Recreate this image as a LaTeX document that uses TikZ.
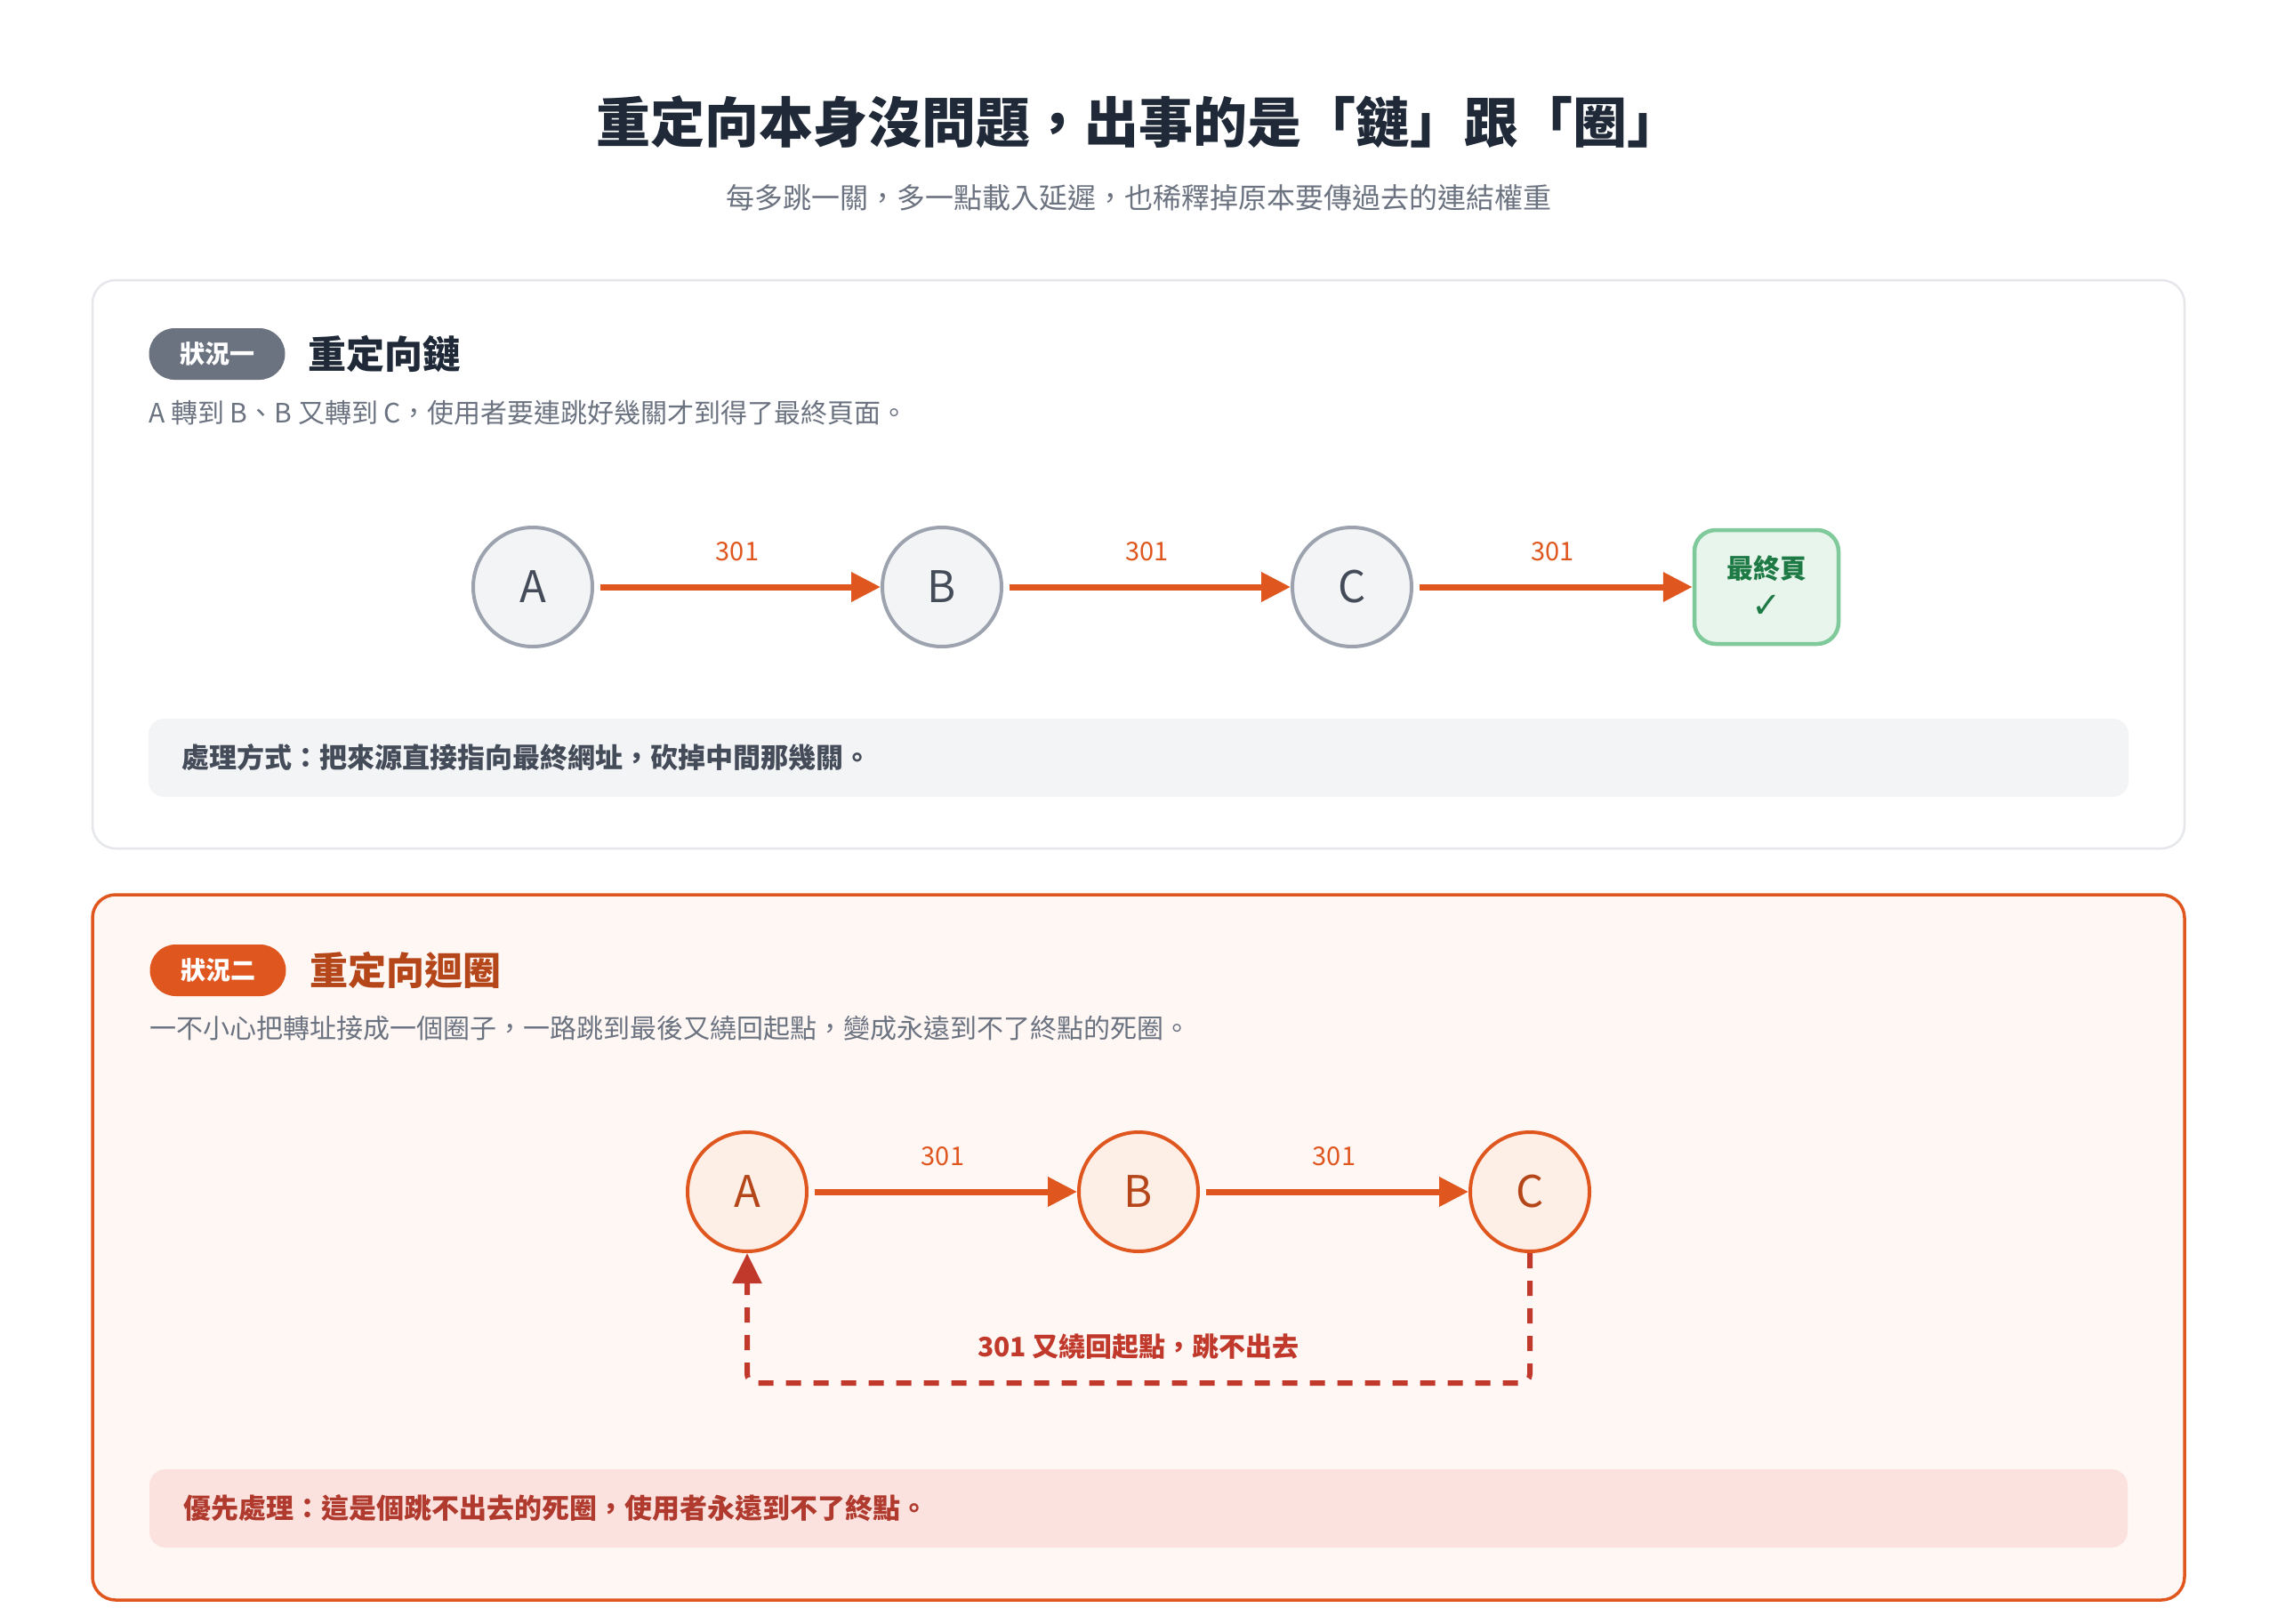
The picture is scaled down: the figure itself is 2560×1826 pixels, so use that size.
\documentclass[tikz,border=0pt]{standalone}
\usepackage{fontspec}
\setmainfont{Noto Sans CJK TC}
\newfontfamily\symfont{DejaVu Sans}
\usetikzlibrary{arrows.meta}
% colours
\definecolor{ink}{HTML}{1F2937}
\definecolor{muted}{HTML}{6B7280}
\definecolor{rule}{HTML}{E5E7EB}
\definecolor{slate}{HTML}{9CA3AF}
\definecolor{soft}{HTML}{F3F4F6}
\definecolor{nodetext}{HTML}{454C59}
\definecolor{hop}{HTML}{E0561F}
\definecolor{okfill}{HTML}{E8F5EC}
\definecolor{okline}{HTML}{7FC99A}
\definecolor{oktext}{HTML}{1E7A45}
\definecolor{loopfill}{HTML}{FEF7F4}
\definecolor{loopnode}{HTML}{FDEEE6}
\definecolor{looptext}{HTML}{B5461A}
\definecolor{back}{HTML}{C0392B}
\definecolor{warnfill}{HTML}{FBE2DF}
\definecolor{warntext}{HTML}{B03A2E}
\newcommand\fsz[1]{\fontsize{#1}{#1}\selectfont}
\begin{document}
\begin{tikzpicture}[x=1pt, y=-1pt, line join=round, line cap=round,
	card/.style={rounded corners=26pt, line width=2.5pt},
	badge/.style={rectangle, rounded corners=29pt, minimum width=153pt, minimum height=58pt, inner sep=0pt, text=white, font=\fsz{28}\bfseries},
	head/.style={anchor=west, inner sep=0pt, font=\fsz{43}\bfseries},
	desc/.style={anchor=west, inner sep=0pt, text=muted, font=\fsz{30}},
	page/.style={circle, minimum size=134pt, inner sep=0pt, line width=4pt, font=\fsz{49}},
	hopline/.style={draw=hop, line width=7pt, line cap=butt, shorten <=7pt, -{Triangle[length=33pt,width=32pt]}},
	code/.style={font=\fsz{29}, text=hop},
	note/.style={anchor=west, inner sep=0pt, font=\fsz{31}\bfseries}]
	\useasboundingbox (0,0) rectangle (2560,1826);
	\fill[white] (0,0) rectangle (2560,1826);
	% heading
	\node[font=\fsz{61}\bfseries, text=ink] (title) at (1280,137) {重定向本身沒問題，出事的是「鏈」跟「圈」};
	\node[font=\fsz{32}, text=muted] (subtitle) at (1280,222) {每多跳一關，多一點載入延遲，也稀釋掉原本要傳過去的連結權重};
	% case one: the chain
	\draw[card, draw=rule, fill=white] (104,315) rectangle (2456,954);
	\node[badge, fill=muted] (tag1) at (244,398) {狀況一};
	\node[head, text=ink] (head1) at (346,398) {重定向鏈};
	\node[desc] (desc1) at (167,464) {A 轉到 B、B 又轉到 C，使用者要連跳好幾關才到得了最終頁面。};
	\node[page, draw=slate, fill=soft, text=nodetext] (a1) at (599,660) {A};
	\node[page, draw=slate, fill=soft, text=nodetext] (b1) at (1059,660) {B};
	\node[page, draw=slate, fill=soft, text=nodetext] (c1) at (1520,660) {C};
	\node[draw=okline, fill=okfill, text=oktext, line width=4.5pt, rounded corners=24pt, minimum width=162pt, minimum height=128pt, align=center, font=\fontsize{30}{44}\selectfont\bfseries] (fin) at (1986,660) {最終頁\\{\symfont\fontsize{40}{44}\selectfont ✓}};
	\foreach \s/\t in {a1/b1,b1/c1,c1/fin}
		\draw[hopline] (\s) -- (\t) node[code, midway, yshift=40pt]{301};
	\fill[soft, rounded corners=18pt] (167,808) rectangle (2393,896);
	\node[note, text=nodetext] (fix1) at (204,852) {處理方式：把來源直接指向最終網址，砍掉中間那幾關。};
	% case two: the loop
	\draw[card, draw=hop, fill=loopfill, line width=3.5pt] (104,1006) rectangle (2456,1799);
	\node[badge, fill=hop] (tag2) at (245,1091) {狀況二};
	\node[head, text=looptext] (head2) at (348,1091) {重定向迴圈};
	\node[desc] (desc2) at (168,1156) {一不小心把轉址接成一個圈子，一路跳到最後又繞回起點，變成永遠到不了終點的死圈。};
	\node[page, draw=hop, fill=loopnode, text=looptext] (a2) at (840,1340) {A};
	\node[page, draw=hop, fill=loopnode, text=looptext] (b2) at (1280,1340) {B};
	\node[page, draw=hop, fill=loopnode, text=looptext] (c2) at (1720,1340) {C};
	\foreach \s/\t in {a2/b2,b2/c2}
		\draw[hopline] (\s) -- (\t) node[code, midway, yshift=40pt]{301};
	\draw[draw=back, line width=6pt, line cap=butt, dash pattern=on 17pt off 14pt, rounded corners=10pt, -{Triangle[length=34pt,width=32pt]}] (c2.south) -- ++(0,146) -| (a2.south);
	\node[font=\fsz{30}\bfseries, text=back] (lbl) at (1280,1514) {301 又繞回起點，跳不出去};
	\fill[warnfill, rounded corners=18pt] (168,1652) rectangle (2392,1740);
	\node[note, text=warntext] (fix2) at (206,1696) {優先處理：這是個跳不出去的死圈，使用者永遠到不了終點。};
\end{tikzpicture}
\end{document}
